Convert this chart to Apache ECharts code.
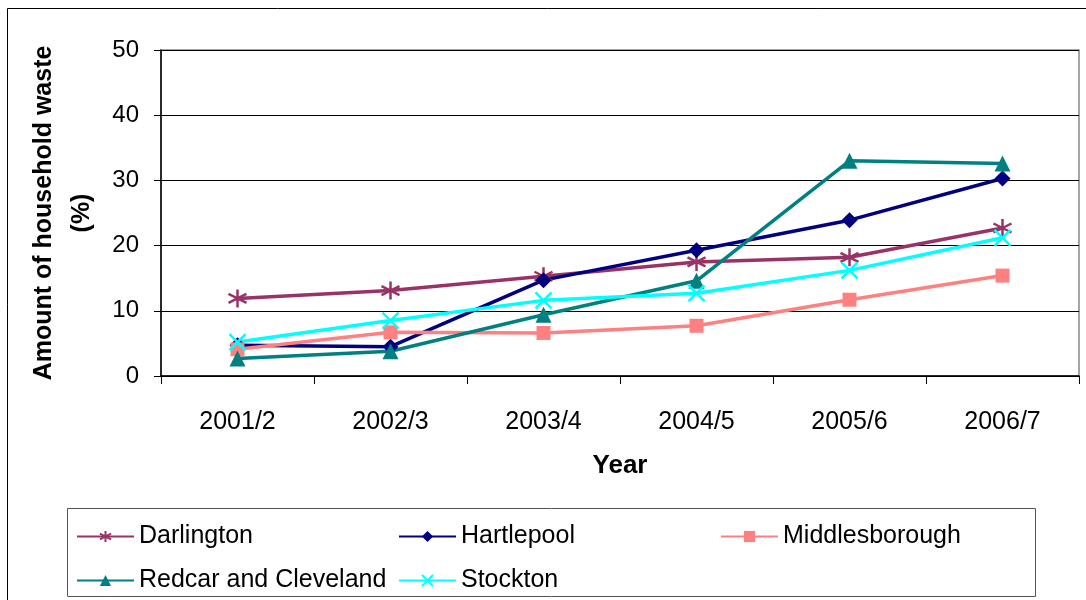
<!DOCTYPE html>
<html>
<head>
<meta charset="utf-8">
<script src="https://cdn.jsdelivr.net/npm/echarts@6/dist/echarts.min.js"></script>
<style>
  html, body { margin: 0; padding: 0; background: #fff; }
  #chart { width: 1086px; height: 600px; }
</style>
</head>
<body>
<div id="chart"></div>
<script>
  // data
  var years = ['2001/2', '2002/3', '2003/4', '2004/5', '2005/6', '2006/7'];
  var darlington = [11.9, 13.1, 15.3, 17.5, 18.2, 22.7];
  var hartlepool = [4.7, 4.5, 14.7, 19.3, 23.9, 30.3];
  var middlesborough = [4.1, 6.7, 6.6, 7.7, 11.7, 15.4];
  var redcar = [2.7, 3.8, 9.4, 14.6, 33.0, 32.6];
  var stockton = [5.2, 8.5, 11.6, 12.7, 16.2, 21.2];
  var yTicks = [0, 10, 20, 30, 40, 50];

  var font = 'Liberation Sans, Arial, sans-serif';
  var starPath = 'path://M0,-10L0,10M-8.66,-5L8.66,5M-8.66,5L8.66,-5';
  var crossPath = 'path://M-10,-10L10,10M10,-10L-10,10';

  function makeSeries(name, data, color, symbol, size, stroked){
    return {
      name: name,
      type: 'line',
      data: data,
      symbol: symbol,
      symbolSize: size,
      showAllSymbol: true,
      lineStyle: { color: color, width: 3.5 },
      itemStyle: stroked ? { color: 'none', borderColor: color, borderWidth: 2.5 } : { color: color, borderWidth: 0 },
      emphasis: { disabled: true },
      z: 3
    };
  }

  function makeLegend(name, left, top){
    return {
      data: [name],
      left: left,
      top: top,
      itemWidth: 57,
      itemHeight: 14,
      itemGap: 0,
      padding: 0,
      textStyle: { fontFamily: font, fontSize: 25, color: '#000', padding: [0, 0, 0, 0] },
      selectedMode: false
    };
  }

  var chart = echarts.init(document.getElementById('chart'));
  var option = {
    backgroundColor: '#fff',
    animation: false,
    grid: {
      left: 161, right: 7, top: 50, bottom: 224,
      show: true, borderColor: '#888', borderWidth: 1.5
    },
    graphic: [
      { type: 'rect', shape: { x: 7.5, y: 8.5, width: 1100, height: 620 },
        style: { fill: 'none', stroke: '#000', lineWidth: 1 }, silent: true },
      { type: 'rect', shape: { x: 67.5, y: 508.5, width: 968, height: 88 },
        style: { fill: 'none', stroke: '#555', lineWidth: 1 }, silent: true }
    ],
    legend: [
      makeLegend('Darlington', 76, 524),
      makeLegend('Hartlepool', 398, 524),
      makeLegend('Middlesborough', 720, 524),
      makeLegend('Redcar and Cleveland', 76, 568),
      makeLegend('Stockton', 398, 568)
    ],
    xAxis: {
      type: 'category',
      data: years,
      boundaryGap: true,
      name: 'Year',
      nameLocation: 'middle',
      nameGap: 77,
      nameTextStyle: { fontFamily: font, fontSize: 26, fontWeight: 'bold', color: '#000' },
      axisLine: { lineStyle: { color: '#000', width: 1.5 } },
      axisTick: { show: true, length: 8, lineStyle: { color: '#000' } },
      axisLabel: { fontFamily: font, fontSize: 25, color: '#000', margin: 34 },
      splitLine: { show: false }
    },
    yAxis: {
      type: 'value',
      min: yTicks[0],
      max: yTicks[yTicks.length - 1],
      interval: 10,
      name: 'Amount of household waste\n(%)',
      nameLocation: 'middle',
      nameGap: 60,
      nameTextStyle: { fontFamily: font, fontSize: 25, fontWeight: 'bold', color: '#000', lineHeight: 38 },
      axisLine: { show: true, lineStyle: { color: '#000', width: 1.5 } },
      axisTick: { show: true, length: 7, lineStyle: { color: '#000' } },
      axisLabel: { fontFamily: font, fontSize: 24, color: '#000', margin: 22 },
      splitLine: { show: true, lineStyle: { color: '#000', width: 1 } }
    },
    series: [
      makeSeries('Darlington', darlington, '#993366', starPath, 18, true),
      makeSeries('Hartlepool', hartlepool, '#000080', 'diamond', 16, false),
      makeSeries('Middlesborough', middlesborough, '#FF8080', 'rect', 14, false),
      makeSeries('Redcar and Cleveland', redcar, '#008080', 'triangle', 16, false),
      makeSeries('Stockton', stockton, '#00FFFF', crossPath, 16, true)
    ]
  };
  chart.setOption(option);
</script>
</body>
</html>
